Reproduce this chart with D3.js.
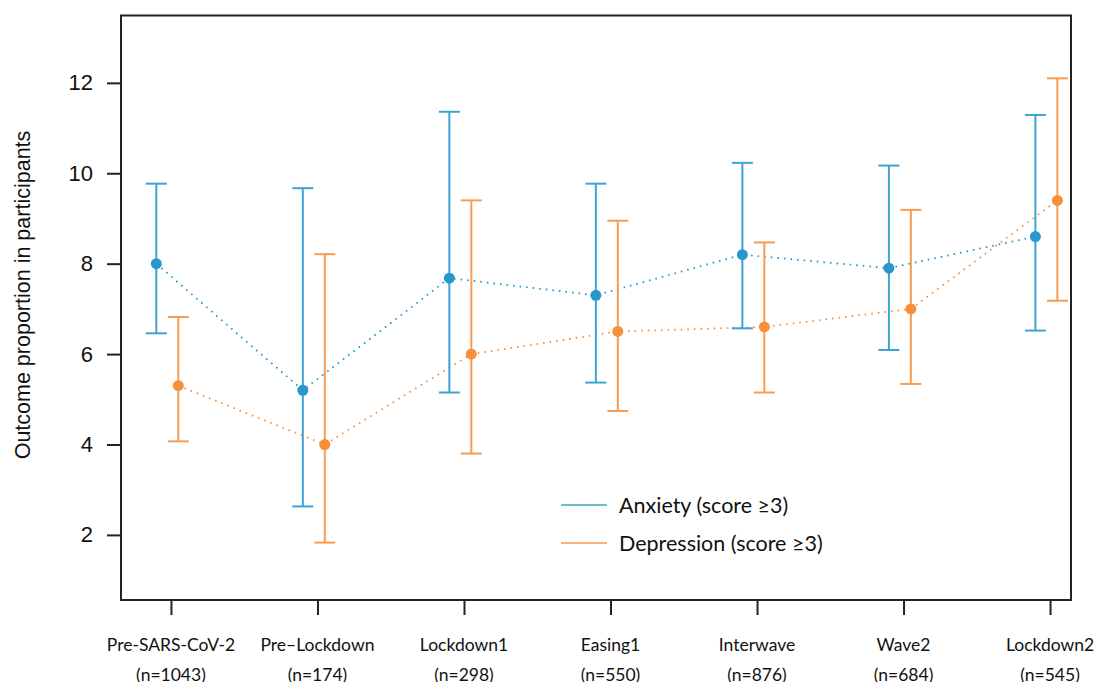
<!DOCTYPE html>
<html>
<head>
<meta charset="utf-8">
<script src="https://cdn.jsdelivr.net/npm/d3@7"></script>
<style>
  body { margin: 0; background: #fff; }
  svg { display: block; }
  .frame { fill: none; stroke: #222; stroke-width: 2; }
  .axis path { display: none; }
  .axis line { stroke: #222; stroke-width: 2; }
</style>
</head>
<body>
<div id="chart"></div>
<script>
// periods along the x axis
var periods = ["Pre-SARS-CoV-2", "Pre\u2013Lockdown", "Lockdown1", "Easing1", "Interwave", "Wave2", "Lockdown2"];
var sampleSizes = ["(n=1043)", "(n=174)", "(n=298)", "(n=550)", "(n=876)", "(n=684)", "(n=545)"];

// anxiety (score >= 3): estimate, lower and upper limits
var anxietyMid = [8.0, 5.2, 7.68, 7.3, 8.2, 7.9, 8.6];
var anxietyLow = [6.46, 2.63, 5.15, 5.37, 6.57, 6.09, 6.52];
var anxietyHigh = [9.77, 9.67, 11.36, 9.77, 10.23, 10.17, 11.29];

// depression (score >= 3)
var depressionMid = [5.3, 4.0, 6.0, 6.5, 6.6, 7.0, 9.4];
var depressionLow = [4.07, 1.83, 3.8, 4.74, 5.15, 5.34, 7.18];
var depressionHigh = [6.82, 8.21, 9.4, 8.95, 8.47, 9.19, 12.1];

var yTicks = [2, 4, 6, 8, 10, 12];

var blue = "#2897cd", blueBar = "#3fa3d1";
var orange = "#f7903c", orangeBar = "#f89c52";

var W = 1111, H = 682;
var plot = {left: 121, right: 1071, top: 15.5, bottom: 600};

var svg = d3.select("#chart").append("svg")
    .attr("width", W).attr("height", H);

var xScale = d3.scaleLinear().domain([0.659, 7.143]).range([plot.left, plot.right]);
var yScale = d3.scaleLinear().domain([0.56, 13.49]).range([plot.bottom, plot.top]);

// build series from the arrays
function makeSeries(mid, low, high, offset) {
  return mid.map(function(m, i) {
    return {pos: i + 1 + offset, mid: m, low: low[i], high: high[i]};
  });
}
var series = [
  {name: "Anxiety (score \u22653)", color: blue, bar: blueBar, pts: makeSeries(anxietyMid, anxietyLow, anxietyHigh, -0.1)},
  {name: "Depression (score \u22653)", color: orange, bar: orangeBar, pts: makeSeries(depressionMid, depressionLow, depressionHigh, 0.05)}
];

// axes
var yAxis = d3.axisLeft(yScale).tickValues(yTicks).tickSize(14).tickPadding(14);
svg.append("g").attr("class", "axis").attr("transform", "translate(" + plot.left + ",0)")
  .call(yAxis)
  .selectAll("text").style("font", "22px 'Liberation Sans', Arial, sans-serif").attr("fill", "#111");

var xAxis = d3.axisBottom(xScale).tickValues(d3.range(1, 8)).tickSize(15).tickFormat("");
svg.append("g").attr("class", "axis").attr("transform", "translate(0," + plot.bottom + ")").call(xAxis);

periods.forEach(function(p, i) {
  var t = svg.append("text").attr("text-anchor", "middle")
    .style("font", "17.5px Lato, 'Open Sans', sans-serif").attr("fill", "#111");
  t.append("tspan").attr("x", xScale(i + 1)).attr("y", 651).text(p);
  t.append("tspan").attr("x", xScale(i + 1)).attr("y", 681).text(sampleSizes[i]);
});

svg.append("text")
  .attr("transform", "translate(30,295) rotate(-90)")
  .attr("text-anchor", "middle")
  .style("font", "21.5px 'Liberation Sans', Arial, sans-serif").attr("fill", "#111")
  .text("Outcome proportion in participants");

// dotted connecting lines
var line = d3.line().x(function(d) { return xScale(d.pos); }).y(function(d) { return yScale(d.mid); });
series.forEach(function(s) {
  svg.append("path").datum(s.pts).attr("d", line)
    .attr("fill", "none").attr("stroke", s.color).attr("stroke-width", 1.8)
    .attr("stroke-dasharray", "1.6,5");
});

// error bars and points
var capHalf = 10.5;
series.forEach(function(s) {
  var g = svg.append("g");
  var bars = g.selectAll(".bar").data(s.pts).enter().append("g");
  bars.append("line")
    .attr("x1", function(d) { return xScale(d.pos); }).attr("x2", function(d) { return xScale(d.pos); })
    .attr("y1", function(d) { return yScale(d.low); }).attr("y2", function(d) { return yScale(d.high); });
  bars.append("line")
    .attr("x1", function(d) { return xScale(d.pos) - capHalf; }).attr("x2", function(d) { return xScale(d.pos) + capHalf; })
    .attr("y1", function(d) { return yScale(d.low); }).attr("y2", function(d) { return yScale(d.low); });
  bars.append("line")
    .attr("x1", function(d) { return xScale(d.pos) - capHalf; }).attr("x2", function(d) { return xScale(d.pos) + capHalf; })
    .attr("y1", function(d) { return yScale(d.high); }).attr("y2", function(d) { return yScale(d.high); });
  bars.selectAll("line").attr("stroke", s.bar).attr("stroke-width", 2);
  g.selectAll("circle").data(s.pts).enter().append("circle")
    .attr("cx", function(d) { return xScale(d.pos); })
    .attr("cy", function(d) { return yScale(d.mid); })
    .attr("r", 5.5).attr("fill", s.color);
});

// legend
var legend = svg.append("g");
series.forEach(function(s, i) {
  var ly = 505 + i * 38;
  legend.append("line").attr("x1", 561).attr("x2", 607).attr("y1", ly).attr("y2", ly)
    .attr("stroke", s.bar).attr("stroke-width", 1.6);
  legend.append("text").attr("x", 619).attr("y", ly + 8)
    .style("font", "21.5px Lato, 'Open Sans', sans-serif").attr("fill", "#111")
    .text(s.name);
});

// frame
svg.append("rect").attr("class", "frame")
  .attr("x", plot.left).attr("y", plot.top)
  .attr("width", plot.right - plot.left).attr("height", plot.bottom - plot.top);
</script>
</body>
</html>
